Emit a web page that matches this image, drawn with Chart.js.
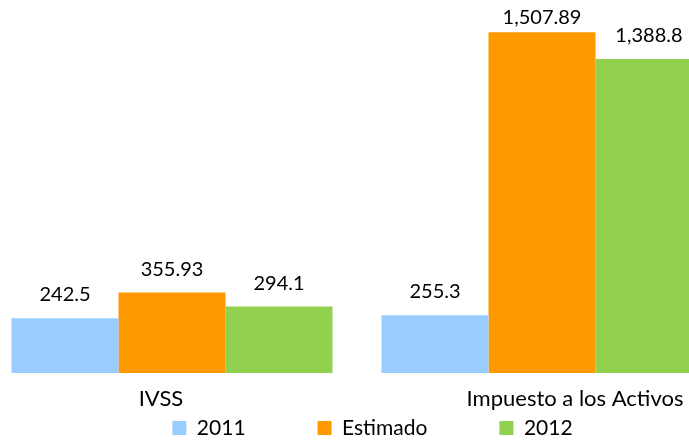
<!DOCTYPE html>
<html>
<head>
<meta charset="utf-8">
<script src="https://cdn.jsdelivr.net/npm/chart.js"></script>
<style>
  html, body { margin: 0; padding: 0; background: #fff; overflow: hidden; }
  #wrap { position: absolute; left: -13px; top: 0; width: 771px; height: 441px; }
</style>
</head>
<body>
<div id="wrap"><canvas id="barChart"></canvas></div>
<script>
let categories = ["IVSS", "Impuesto a los Activos"];
let values2011 = [242.5, 255.3];
let valuesEstimado = [355.93, 1507.89];
let values2012 = [294.1, 1388.8];

Chart.defaults.font.family = "Lato";
Chart.defaults.color = "#000";

// numbers above each bar
let barLabels = {
  id: "barLabels",
  afterDatasetsDraw(chart) {
    let ctx = chart.ctx;
    ctx.save();
    ctx.font = "20px Lato";
    ctx.fillStyle = "#000";
    ctx.textAlign = "center";
    ctx.textBaseline = "alphabetic";
    chart.data.datasets.forEach((ds, i) => {
      chart.getDatasetMeta(i).data.forEach((bar, j) => {
        let y = Math.max(bar.y - 17, chart.chartArea.top + 24);
        ctx.fillText(ds.data[j].toLocaleString("en-US"), bar.x, y);
      });
    });
    ctx.restore();
  }
};

// category label axis: shows one category, nudged sideways like the original
function labelAxis(index, offset) {
  return {
    type: "category",
    position: "bottom",
    offset: true,
    grid: { display: false, drawTicks: false },
    border: { display: false },
    ticks: {
      mirror: true,
      padding: 0,
      labelOffset: offset,
      font: { size: 22, lineHeight: 4.545 },
      callback: (value, i) => (i === index ? categories[i] : "")
    }
  };
}

let ctxb = document.getElementById("barChart").getContext("2d");
let myBarChart = new Chart(ctxb, {
  type: "bar",
  data: {
    labels: categories,
    datasets: [
      { label: "2011", data: values2011, backgroundColor: "#99CCFF" },
      { label: "Estimado", data: valuesEstimado, backgroundColor: "#FF9900" },
      { label: "2012", data: values2012, backgroundColor: "#92D050" }
    ]
  },
  options: {
    responsive: true,
    maintainAspectRatio: false,
    animation: false,
    layout: { padding: { top: 0, left: 0, right: 0, bottom: -7.5 } },
    datasets: { bar: { categoryPercentage: 0.8676, barPercentage: 1 } },
    scales: {
      x: { display: false },
      xa: labelAxis(0, -11),
      xb: labelAxis(1, 33),
      y: {
        position: "right",
        min: 0,
        max: 1650,
        grid: { display: false, drawTicks: false },
        border: { display: false },
        ticks: { display: false },
        afterFit(scale) { scale.width = 31; }
      }
    },
    plugins: {
      tooltip: { enabled: false },
      legend: {
        position: "bottom",
        weight: -1,
        title: { display: true, text: "", font: { size: 10, lineHeight: 1 }, padding: { top: 0, bottom: -37.5 } },
        labels: { boxWidth: 14, boxHeight: 14, padding: 72, font: { size: 21 } }
      }
    }
  },
  plugins: [barLabels]
});
</script>
</body>
</html>
